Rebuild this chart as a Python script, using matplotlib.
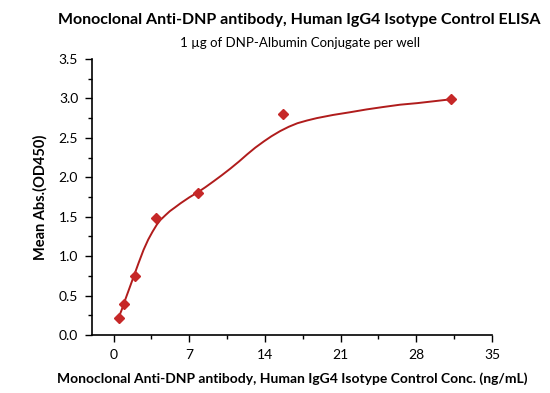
import numpy as np
import matplotlib.pyplot as plt
from matplotlib.ticker import MultipleLocator

plt.rcParams['font.family'] = ['Lato', 'DejaVu Sans']

# measured points
conc = [0.488, 0.977, 1.953, 3.906, 7.813, 15.625, 31.25]
od450 = [0.22, 0.39, 0.75, 1.48, 1.80, 2.80, 2.99]

# fitted curve
fit_x = [0.46, 0.75, 1.0, 1.4, 1.85, 2.3, 2.77, 3.2, 3.6, 4.0, 4.34, 4.8, 5.2,
         5.7, 6.19, 7.0, 7.85, 8.5, 9.26, 10.0, 10.8, 11.6, 12.35, 13.1, 13.9,
         14.6, 15.4, 16.2, 17.0, 17.9, 18.8, 20.3, 21.9, 23.4, 24.9, 26.5,
         28.1, 29.7, 31.3]
fit_y = [0.22, 0.32, 0.42, 0.57, 0.74, 0.91, 1.08, 1.21, 1.31, 1.40, 1.46, 1.52, 1.57,
         1.62, 1.67, 1.745, 1.815, 1.875, 1.95, 2.025, 2.11, 2.20, 2.29, 2.375, 2.455,
         2.52, 2.585, 2.64, 2.685, 2.72, 2.75, 2.79, 2.825, 2.86, 2.89, 2.92,
         2.94, 2.965, 2.99]

fig = plt.figure(figsize=(5.5, 3.93), dpi=100)
ax = fig.add_axes([0.1673, 0.1476, 0.7272, 0.7024])

ax.plot(fit_x, fit_y, '-', color='#b01c1c', lw=1.4)
ax.plot(conc, od450, 'D', color='#c62828', ms=5, mec='#c62828')

ax.set_xlim(-2, 35)
ax.set_ylim(0, 3.5)
ax.xaxis.set_major_locator(MultipleLocator(7))
ax.xaxis.set_minor_locator(MultipleLocator(3.5))
ax.yaxis.set_major_locator(MultipleLocator(0.5))
ax.yaxis.set_minor_locator(MultipleLocator(0.25))
ax.yaxis.set_major_formatter(plt.FormatStrFormatter('%.1f'))
ax.tick_params(which='major', direction='out', length=5, width=1, labelsize=10, pad=5)
ax.tick_params(which='minor', direction='out', length=3, width=1)
ax.spines['top'].set_visible(False)
ax.spines['right'].set_visible(False)
ax.spines['left'].set_linewidth(1.2)
ax.spines['bottom'].set_linewidth(1.2)

ax.set_ylabel('Mean Abs.(OD450)', fontsize=10.5, fontweight='bold', labelpad=8)
ax.set_xlabel('Monoclonal Anti-DNP antibody, Human IgG4 Isotype Control Conc. (ng/mL)',
              fontsize=10, fontweight='bold', labelpad=8)
fig.text(0.545, 0.95, 'Monoclonal Anti-DNP antibody, Human IgG4 Isotype Control ELISA',
         ha='center', va='center', fontsize=11.5, fontweight='bold')
fig.text(0.545, 0.89, '1 µg of DNP-Albumin Conjugate per well',
         ha='center', va='center', fontsize=9.5)

plt.savefig('out.png', dpi=100)
